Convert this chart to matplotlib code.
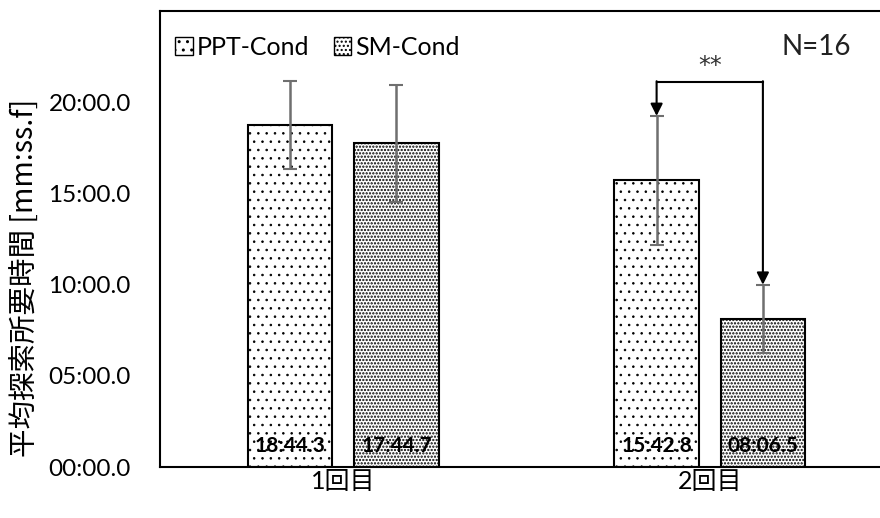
import numpy as np
import matplotlib
matplotlib.use("Agg")
import matplotlib.pyplot as plt
from matplotlib.ticker import FuncFormatter
from matplotlib.patches import Patch

plt.rcParams['font.family'] = ['Lato', 'Noto Sans CJK JP', 'DejaVu Sans']

# data (seconds)
groups = ["1回目", "2回目"]
series = ["PPT-Cond", "SM-Cond"]
ppt_mean = [1124.3, 942.8]
sm_mean = [1064.7, 486.5]
ppt_err = [145, 212]
sm_err = [192, 113]
sig_y = 1265  # bracket height
sig_text = "**"
n_text = "N=16"


def mmss(v, pos=None):
    m = int(v // 60)
    s = v - m * 60
    return "%02d:%04.1f" % (m, s)


fig = plt.figure(figsize=(8.8, 5.18), dpi=100)
ax = fig.add_axes([160 / 880, 51 / 518, 733 / 880, 456 / 518])

x = np.arange(len(groups))
off = 0.145
w = 0.23

with plt.rc_context({'hatch.linewidth': 0.6}):
    ax.bar(x - off, ppt_mean, w, color="white", edgecolor="black", linewidth=1.5, hatch="..")
    h1 = Patch(facecolor="white", edgecolor="black", hatch="..", label=series[0])
with plt.rc_context({'hatch.linewidth': 1.1}):
    ax.bar(x + off, sm_mean, w, color="white", edgecolor="black", linewidth=1.5, hatch=".....")
    h2 = Patch(facecolor="white", edgecolor="black", hatch="....", label=series[1])

ax.errorbar(x - off, ppt_mean, yerr=ppt_err, fmt="none", ecolor="#6f6f6f", elinewidth=1.8, capsize=5, capthick=1.5)
ax.errorbar(x + off, sm_mean, yerr=sm_err, fmt="none", ecolor="#6f6f6f", elinewidth=1.8, capsize=5, capthick=1.5)

for xs, vals in [(x - off, ppt_mean), (x + off, sm_mean)]:
    for xi, v in zip(xs, vals):
        ax.text(xi, 70, mmss(v), ha="center", va="center", fontsize=15, fontweight="bold")

# significance bracket on 2nd group
xa = x[1] - off
xb = x[1] + off
ax.plot([xa, xb], [sig_y, sig_y], color="black", lw=1.5)
ax.annotate("", xy=(xa, ppt_mean[1] + ppt_err[1]), xytext=(xa, sig_y + 4),
            arrowprops=dict(arrowstyle="-|>", color="black", lw=1.5, mutation_scale=18, shrinkA=0, shrinkB=0))
ax.annotate("", xy=(xb, sm_mean[1] + sm_err[1]), xytext=(xb, sig_y + 4),
            arrowprops=dict(arrowstyle="-|>", color="black", lw=1.5, mutation_scale=18, shrinkA=0, shrinkB=0))
ax.text((xa + xb) / 2, sig_y + 15, sig_text, ha="center", va="bottom", fontsize=17, color="#333333",
        family="DejaVu Sans")

ax.text(0.943, 0.921, n_text, transform=ax.transAxes, ha="right", va="center", fontsize=20, color="#222222")

ax.set_xlim(-0.5, 1.5)
ax.set_ylim(0, 1500)
ax.set_yticks([0, 300, 600, 900, 1200])
ax.yaxis.set_major_formatter(FuncFormatter(mmss))
ax.set_xticks(x)
ax.set_xticklabels(groups)
ax.tick_params(length=0)
ax.tick_params(axis="y", labelsize=17.5, pad=21)
ax.tick_params(axis="x", labelsize=18, pad=2)
for s in ax.spines.values():
    s.set_linewidth(1.5)

ax.set_ylabel("平均探索所要時間 [mm:ss.f]", fontsize=20.5,
              family=['Noto Sans CJK JP', 'DejaVu Sans'])
ax.yaxis.set_label_coords(-0.164, 0.415)

ax.legend(handles=[h1, h2], loc="upper left", bbox_to_anchor=(-0.01, 0.995), ncol=2, frameon=False,
          fontsize=18, handlelength=0.7, handleheight=0.7, handletextpad=0.15, columnspacing=1.0)

fig.savefig("out.png", dpi=100)
